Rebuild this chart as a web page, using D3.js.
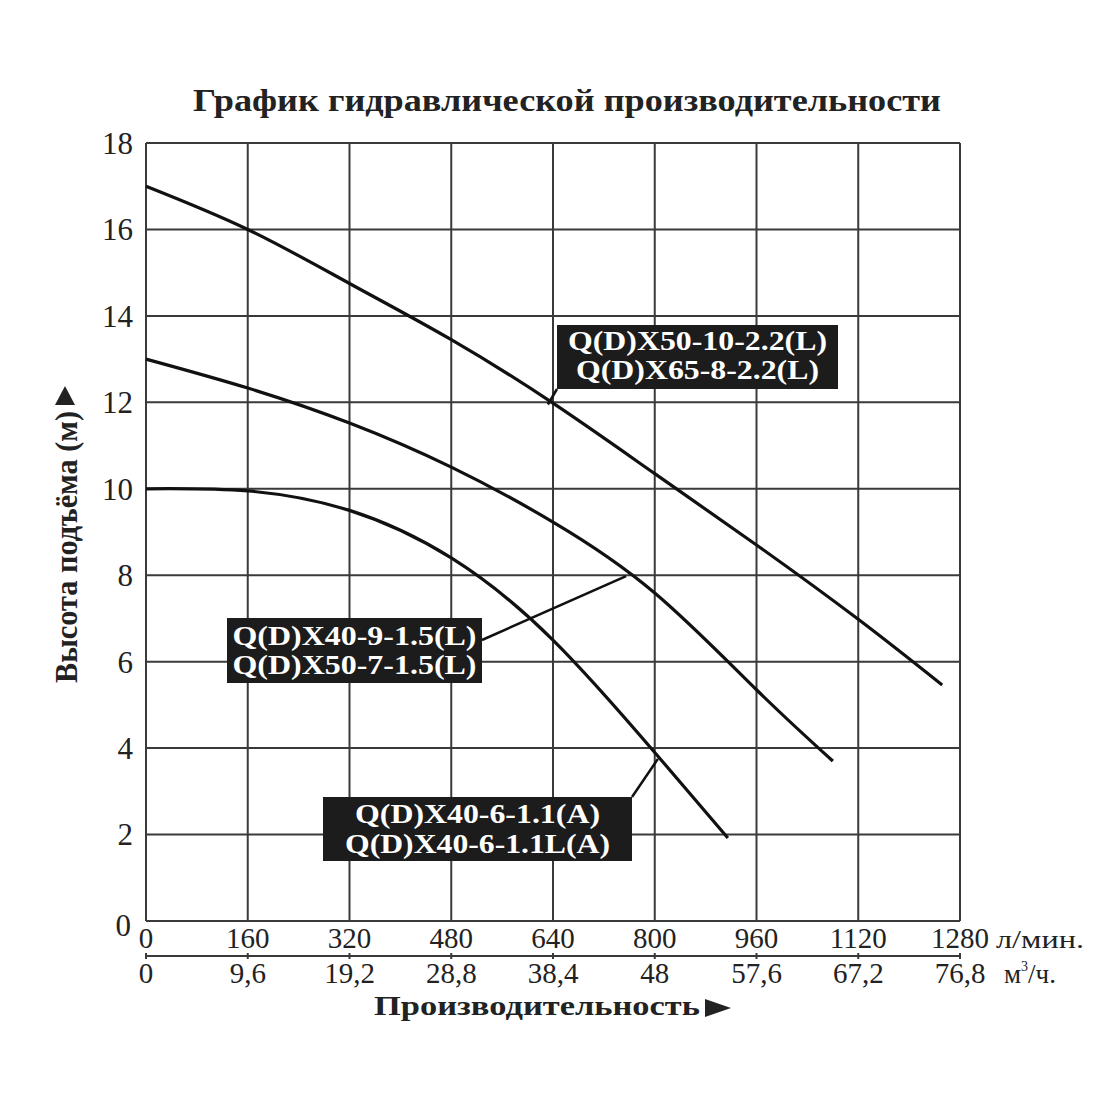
<!DOCTYPE html>
<html>
<head>
<meta charset="utf-8">
<script src="https://cdn.jsdelivr.net/npm/d3@7"></script>
<style>
  body { margin: 0; background: #fff; }
  svg { display: block; }
  text { font-family: "Liberation Serif", "Times New Roman", serif; fill: #222; }
  .bold { font-weight: bold; }
</style>
</head>
<body>
<svg id="chart" width="1100" height="1100"></svg>
<script>
// ---- data ----
const headTicks = [0, 2, 4, 6, 8, 10, 12, 14, 16, 18];
const flowLpmTicks = [0, 160, 320, 480, 640, 800, 960, 1120, 1280];
const flowM3Ticks = [0, 9.6, 19.2, 28.8, 38.4, 48, 57.6, 67.2, 76.8];

// flow (л/мин) / head (м)
const curve22 = [[0, 17.0], [160, 16.0], [320, 14.75], [480, 13.45], [640, 11.98], [800, 10.35], [960, 8.7], [1120, 6.98], [1252, 5.46]];
const curve15 = [[0, 13.0], [160, 12.33], [320, 11.52], [480, 10.5], [640, 9.23], [800, 7.59], [960, 5.35], [1080, 3.7]];
const curve11 = [[0, 10.0], [160, 9.95], [320, 9.5], [480, 8.4], [640, 6.5], [800, 3.9], [915, 1.92]];

const labels22 = ["Q(D)X50-10-2.2(L)", "Q(D)X65-8-2.2(L)"];
const labels15 = ["Q(D)X40-9-1.5(L)", "Q(D)X50-7-1.5(L)"];
const labels11 = ["Q(D)X40-6-1.1(A)", "Q(D)X40-6-1.1L(A)"];

// ---- layout ----
const svg = d3.select('#chart');
const x = d3.scaleLinear().domain([0, 1280]).range([146, 960]);
const x2 = d3.scaleLinear().domain([0, 76.8]).range([146, 960]);
const y = d3.scaleLinear().domain([0, 18]).range([921, 143]);
const gridColor = '#3a3a3a';

// title
svg.append('text')
  .attr('class', 'bold')
  .attr('x', 567).attr('y', 111)
  .attr('text-anchor', 'middle')
  .attr('font-size', 31)
  .attr('textLength', 748)
  .attr('lengthAdjust', 'spacingAndGlyphs')
  .text('График гидравлической производительности');

// grid
const grid = svg.append('g');
grid.selectAll('.vline')
  .data(flowLpmTicks)
  .enter()
  .append('line')
  .attr('x1', d => x(d)).attr('x2', d => x(d))
  .attr('y1', y(18)).attr('y2', y(0))
  .attr('stroke', gridColor)
  .attr('stroke-width', 2);

grid.selectAll('.hline')
  .data(headTicks)
  .enter()
  .append('line')
  .attr('x1', x(0)).attr('x2', x(1280))
  .attr('y1', d => y(d)).attr('y2', d => y(d))
  .attr('stroke', gridColor)
  .attr('stroke-width', 2);

// y tick labels
svg.selectAll('.ylab')
  .data(headTicks)
  .enter()
  .append('text')
  .attr('x', d => d === 0 ? 131 : 133)
  .attr('y', d => y(d) + (d === 0 ? 4 : 0))
  .attr('dy', '0.35em')
  .attr('text-anchor', 'end')
  .attr('font-size', 31)
  .text(d => d);

// x tick labels (л/мин)
svg.selectAll('.xlab')
  .data(flowLpmTicks)
  .enter()
  .append('text')
  .attr('x', d => x(d))
  .attr('y', 948)
  .attr('text-anchor', 'middle')
  .attr('font-size', 29)
  .text(d => d);

svg.append('text')
  .attr('x', 996).attr('y', 948)
  .attr('font-size', 26)
  .attr('textLength', 88)
  .attr('lengthAdjust', 'spacingAndGlyphs')
  .text('л/мин.');

// second axis (м³/ч)
const axis2 = svg.append('g').attr('transform', 'translate(0,956)');
axis2.append('line')
  .attr('x1', x2(0)).attr('x2', x2(76.8))
  .attr('stroke', gridColor)
  .attr('stroke-width', 2);
axis2.selectAll('.tick2')
  .data(flowM3Ticks)
  .enter()
  .append('line')
  .attr('x1', d => x2(d)).attr('x2', d => x2(d))
  .attr('y1', -3).attr('y2', 3)
  .attr('stroke', gridColor)
  .attr('stroke-width', 2);

svg.selectAll('.x2lab')
  .data(flowM3Ticks)
  .enter()
  .append('text')
  .attr('x', d => x2(d))
  .attr('y', 983)
  .attr('text-anchor', 'middle')
  .attr('font-size', 29)
  .text(d => String(d).replace('.', ','));

const unit2 = svg.append('text')
  .attr('x', 1004).attr('y', 983)
  .attr('font-size', 27);
unit2.append('tspan').text('м');
unit2.append('tspan').attr('font-size', 14).attr('dy', -12).text('3');
unit2.append('tspan').attr('dy', 12).text('/ч.');

// axis titles
svg.append('text')
  .attr('class', 'bold')
  .attr('x', 374).attr('y', 1015)
  .attr('font-size', 27)
  .attr('textLength', 326)
  .attr('lengthAdjust', 'spacingAndGlyphs')
  .text('Производительность');
svg.append('path')
  .attr('d', 'M705,999 L731,1008 L705,1017 Z')
  .attr('fill', '#222');

svg.append('text')
  .attr('class', 'bold')
  .attr('transform', 'translate(77,683) rotate(-90)')
  .attr('font-size', 32)
  .attr('textLength', 272)
  .attr('lengthAdjust', 'spacingAndGlyphs')
  .text('Высота подъёма (м)');
svg.append('path')
  .attr('d', 'M55,405 L65,386 L75,405 Z')
  .attr('fill', '#222');

// curves
const line = d3.line()
  .x(d => x(d[0]))
  .y(d => y(d[1]))
  .curve(d3.curveNatural);

svg.selectAll('.curve')
  .data([curve22, curve15, curve11])
  .enter()
  .append('path')
  .attr('class', 'curve')
  .attr('d', line)
  .attr('fill', 'none')
  .attr('stroke', '#111')
  .attr('stroke-width', 3.2);

// label boxes with leader lines
const notes = [
  { lines: labels22, box: [557, 325, 281, 64], from: [557, 389], anchor: [632, 11.95], base: [350, 379], widths: [259, 243] },
  { lines: labels15, box: [227, 618, 255, 65], from: [482, 640], anchor: [755, 7.98], base: [645, 674], widths: [244, 244] },
  { lines: labels11, box: [323, 797, 309, 64], from: [632, 797], anchor: [805, 3.75], base: [823, 853], widths: [245, 265] }
];

notes.forEach(n => {
  svg.append('line')
    .attr('x1', n.from[0]).attr('y1', n.from[1])
    .attr('x2', x(n.anchor[0])).attr('y2', y(n.anchor[1]))
    .attr('stroke', '#111')
    .attr('stroke-width', 2.5);
  svg.append('rect')
    .attr('x', n.box[0]).attr('y', n.box[1])
    .attr('width', n.box[2]).attr('height', n.box[3])
    .attr('fill', '#1c1c1c');
  n.lines.forEach((t, i) => {
    svg.append('text')
      .attr('class', 'bold')
      .attr('x', n.box[0] + n.box[2] / 2)
      .attr('y', n.base[i])
      .attr('text-anchor', 'middle')
      .attr('font-size', 27)
      .attr('textLength', n.widths[i])
      .attr('lengthAdjust', 'spacingAndGlyphs')
      .style('fill', '#fff')
      .text(t);
  });
});
</script>
</body>
</html>
